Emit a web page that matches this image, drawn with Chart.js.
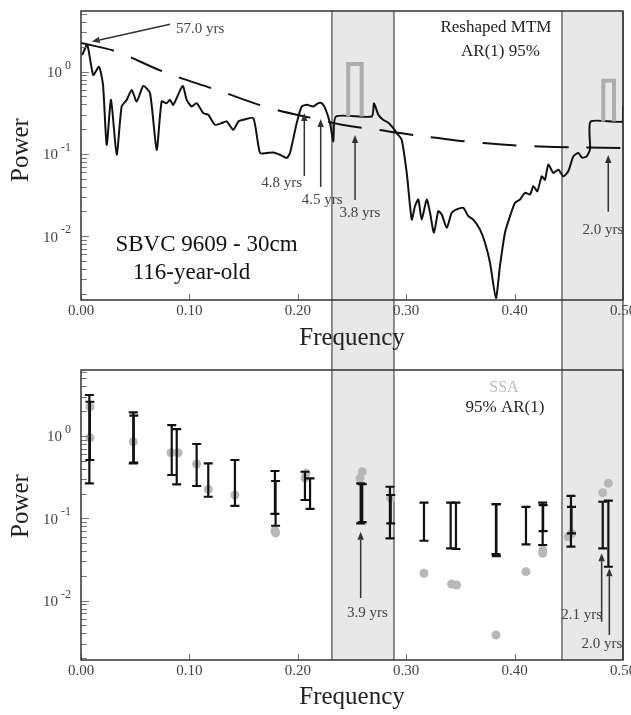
<!DOCTYPE html>
<html>
<head>
<meta charset="utf-8">
<script src="https://cdn.jsdelivr.net/npm/chart.js@4.4.1/dist/chart.umd.min.js"></script>
<style>
  body { margin: 0; background: #fff; width: 631px; height: 715px; overflow: hidden; position: relative; }
  .panel { position: absolute; left: 0; width: 631px; }
  #top { top: 0; height: 360px; }
  #bot { top: 360px; height: 355px; }
</style>
</head>
<body>
<div class="panel" id="top"><canvas id="mtm"></canvas></div>
<div class="panel" id="bot"><canvas id="ssa"></canvas></div>
<script>
// ── Data ──────────────────────────────────────────────────

const xTickValues = [0, 0.1, 0.2, 0.3, 0.4, 0.5];
const xTickLabels = ['0.00', '0.10', '0.20', '0.30', '0.40', '0.50'];
const yTickValues = [1, 0.1, 0.01];
const yTickExp    = ['0', '-1', '-2'];

// shaded frequency bands
const bandStart = [0.2315, 0.4437];
const bandEnd   = [0.2887, 0.5];

// reshaped MTM spectrum
const mtmFreq = [
  0.001, 0.0058, 0.0113, 0.0166, 0.0203, 0.0237, 0.0277, 0.0329, 0.0375, 0.0422,
  0.0468, 0.0514, 0.0575, 0.0637, 0.0698, 0.0744, 0.079, 0.0821, 0.0851, 0.0938,
  0.0975, 0.1021, 0.1067, 0.1128, 0.1174, 0.1236, 0.1298, 0.1344, 0.1405, 0.1451,
  0.1497, 0.159, 0.1651, 0.1713, 0.1774, 0.1836, 0.1898, 0.1928, 0.199, 0.2036,
  0.2082, 0.2143, 0.2189, 0.222, 0.2251, 0.2297, 0.2328, 0.2352, 0.2682, 0.2703,
  0.2743, 0.2786, 0.2832, 0.2881, 0.2912, 0.2958, 0.3005, 0.3051, 0.3081, 0.3112,
  0.3143, 0.3189, 0.322, 0.3256, 0.3296, 0.3328, 0.3374, 0.342, 0.3466, 0.3527,
  0.3573, 0.3619, 0.3681, 0.3727, 0.3773, 0.3828, 0.3865, 0.3911, 0.3958, 0.4004,
  0.405, 0.4096, 0.4142, 0.4173, 0.421, 0.425, 0.428, 0.4311, 0.4357, 0.4403,
  0.4449, 0.4495, 0.4542, 0.4588, 0.4622, 0.4665, 0.4696, 0.4702, 0.5, 0.5,
];
const mtmPower = [
  1.59, 2.11, 0.912, 1.15, 0.69, 0.129, 0.454, 0.0977, 0.377, 0.454,
  0.60, 0.433, 0.671, 0.547, 0.112, 0.433, 0.414, 0.454, 0.395, 0.671,
  0.454, 0.377, 0.414, 0.313, 0.299, 0.226, 0.237, 0.248, 0.196, 0.248,
  0.26, 0.272, 0.1025, 0.1025, 0.104, 0.0977, 0.0891, 0.1025, 0.237, 0.377,
  0.395, 0.377, 0.414, 0.414, 0.363, 0.237, 0.142, 0.285, 0.285, 0.414,
  0.299, 0.26, 0.241, 0.206, 0.179, 0.149, 0.0587, 0.0159, 0.0231, 0.0279,
  0.0159, 0.0279, 0.0192, 0.011, 0.0201, 0.0183, 0.0126, 0.0192, 0.0211, 0.0221,
  0.0175, 0.0159, 0.012, 0.0083, 0.00476, 0.00176, 0.00433, 0.011, 0.0175, 0.0254,
  0.0279, 0.0336, 0.032, 0.0404, 0.0351, 0.0533, 0.0486, 0.074, 0.0587, 0.0643,
  0.0533, 0.0614, 0.0933, 0.1025, 0.09, 0.0933, 0.1146, 0.248, 0.248, 0.377,
];

// AR(1) 95% level (dashed)
const arFreq  = [0, 0.0329, 0.0759, 0.1252, 0.1744, 0.2174, 0.2405, 0.2743, 0.2943, 0.325, 0.3711, 0.4234, 0.5];
const arPower = [2.23, 1.75, 1.0, 0.60, 0.36, 0.265, 0.226, 0.196, 0.179, 0.158, 0.1355, 0.123, 0.118];

// significance pulses (grey)
const pulse1Freq  = [0.2465, 0.2465, 0.2589, 0.2589];
const pulse1Power = [0.285, 1.24, 1.24, 0.285];
const pulse2Freq  = [0.4818, 0.4818, 0.4917, 0.4917];
const pulse2Power = [0.248, 0.778, 0.778, 0.248];

// SSA eigenvalue powers (grey dots)
const ssaFreq  = [0.0083, 0.0083, 0.0482, 0.083, 0.0895, 0.1067, 0.1174, 0.142, 0.1789, 0.1795,
                  0.2076, 0.2066, 0.2595, 0.2574, 0.2857, 0.3164, 0.3419, 0.3465, 0.3828, 0.4105,
                  0.4259, 0.4259, 0.4495, 0.4527, 0.4813, 0.4865];
const ssaPower = [2.27, 0.953, 0.853, 0.627, 0.627, 0.457, 0.225, 0.192, 0.0707, 0.0668,
                  0.352, 0.309, 0.368, 0.306, 0.175, 0.0215, 0.0159, 0.0155, 0.00382, 0.0225,
                  0.0412, 0.0376, 0.0598, 0.0657, 0.205, 0.266];

// 95% AR(1) error bars
const ebFreq = [0.0077, 0.0082, 0.0482, 0.0487, 0.0837, 0.0883, 0.1067, 0.1174, 0.142, 0.1789,
                0.1795, 0.2066, 0.2113, 0.258, 0.2594, 0.285, 0.2857, 0.3164, 0.341, 0.3459,
                0.3828, 0.3832, 0.4105, 0.4259, 0.4263, 0.452, 0.4525, 0.4813, 0.4865];
const ebLow  = [0.266, 0.511, 0.466, 0.474, 0.336, 0.259, 0.247, 0.183, 0.142, 0.113,
                0.0813, 0.167, 0.130, 0.0869, 0.09, 0.0571, 0.0869, 0.0534, 0.0432, 0.0424,
                0.0368, 0.0348, 0.0483, 0.0474, 0.0701, 0.0452, 0.0657, 0.0432, 0.0258];
const ebHigh = [3.15, 2.61, 1.94, 1.77, 1.36, 1.21, 0.80, 0.466, 0.511, 0.376,
                0.284, 0.368, 0.306, 0.266, 0.26, 0.242, 0.192, 0.155, 0.155, 0.155,
                0.149, 0.149, 0.138, 0.155, 0.145, 0.187, 0.138, 0.159, 0.164];

// annotations, in data coordinates
const mtmArrows = [
  [0.0821, 3.77, 0.0099, 2.32],
  [0.206, 0.0538, 0.206, 0.315],
  [0.2211, 0.0396, 0.2211, 0.266],
  [0.2528, 0.0275, 0.2528, 0.17],
  [0.4864, 0.0198, 0.4864, 0.097],
];
const mtmNotes = [
  { text: '57.0 yrs', x: 0.0876, y: 3.31, align: 'left' },
  { text: '4.8 yrs',  x: 0.2039, y: 0.0442, align: 'right' },
  { text: '4.5 yrs',  x: 0.2225, y: 0.0273, align: 'center' },
  { text: '3.8 yrs',  x: 0.2574, y: 0.0191, align: 'center' },
  { text: '2.0 yrs',  x: 0.4815, y: 0.01186, align: 'center' },
  { text: 'SBVC 9609 - 30cm', x: 0.1158, y: 0.0078, align: 'center', size: 23, color: '#111' },
  { text: '116-year-old',     x: 0.1019, y: 0.00356, align: 'center', size: 23, color: '#111' },
  { text: 'Reshaped MTM', x: 0.3828, y: 3.40, align: 'center', size: 17, color: '#222' },
  { text: 'AR(1) 95%',    x: 0.387,  y: 1.74, align: 'center', size: 17, color: '#222' },
];
const ssaArrows = [
  [0.258, 0.01075, 0.258, 0.0687],
  [0.4803, 0.00554, 0.4803, 0.0376],
  [0.4874, 0.00382, 0.4874, 0.0247],
];
const ssaNotes = [
  { text: '3.9 yrs', x: 0.2643, y: 0.00707, align: 'center' },
  { text: '2.1 yrs', x: 0.4806, y: 0.00668, align: 'right' },
  { text: '2.0 yrs', x: 0.4806, y: 0.00297, align: 'center' },
  { text: 'SSA',       x: 0.3902, y: 3.83, align: 'center', size: 16, color: '#bbb' },
  { text: '95% AR(1)', x: 0.3911, y: 2.19, align: 'center', size: 17, color: '#222' },
];

// ── Helpers ───────────────────────────────────────────────

const SERIF = "'Liberation Serif', 'Times New Roman', serif";
const pts = (xs, ys) => xs.map((x, i) => ({ x, y: ys[i] }));

function drawArrow(ctx, x0, y0, x1, y1) {
  const a = Math.atan2(y1 - y0, x1 - x0);
  const h = 8, w = 3.2;
  const bx = x1 - h * Math.cos(a), by = y1 - h * Math.sin(a);
  ctx.beginPath();
  ctx.moveTo(x0, y0);
  ctx.lineTo(bx, by);
  ctx.stroke();
  ctx.beginPath();
  ctx.moveTo(x1, y1);
  ctx.lineTo(bx + w * Math.sin(a), by - w * Math.cos(a));
  ctx.lineTo(bx - w * Math.sin(a), by + w * Math.cos(a));
  ctx.closePath();
  ctx.fill();
}

// bands, frame, inward ticks, tick labels, titles and notes
const frame = {
  id: 'frame',
  beforeDraw(chart, args, o) {
    const { ctx, chartArea: a, scales: { x } } = chart;
    const y0 = o.bandsDown ? a.top : 0;
    const y1 = o.bandsDown ? chart.height : a.bottom;
    ctx.save();
    ctx.fillStyle = '#e8e8e8';
    ctx.strokeStyle = '#555';
    ctx.lineWidth = 1.3;
    bandStart.forEach((s, i) => {
      const l = x.getPixelForValue(s), r = x.getPixelForValue(bandEnd[i]);
      ctx.fillRect(l, y0, r - l, y1 - y0);
      ctx.beginPath();
      ctx.moveTo(l, y0); ctx.lineTo(l, y1);
      ctx.moveTo(r, y0); ctx.lineTo(r, y1);
      ctx.stroke();
    });
    ctx.restore();
  },
  afterDraw(chart, args, o) {
    const { ctx, chartArea: a, scales: { x, y } } = chart;
    ctx.save();

    // inward ticks
    ctx.strokeStyle = '#777';
    ctx.lineWidth = 1;
    ctx.beginPath();
    for (let e = -3; e <= 0; e++) {
      for (let m = 1; m <= 9; m++) {
        const v = m * Math.pow(10, e);
        if (v < y.min || v > y.max) continue;
        const py = Math.round(y.getPixelForValue(v)) + 0.5;
        ctx.moveTo(a.left, py);
        ctx.lineTo(a.left + (m === 1 ? 8 : 6), py);
      }
    }
    xTickValues.forEach(v => {
      const px = Math.round(x.getPixelForValue(v)) + 0.5;
      ctx.moveTo(px, a.bottom);
      ctx.lineTo(px, a.bottom - 6);
    });
    ctx.stroke();

    // frame
    ctx.strokeStyle = '#333';
    ctx.lineWidth = 1.5;
    ctx.strokeRect(a.left, a.top, a.right - a.left, a.bottom - a.top);

    // x tick labels
    ctx.fillStyle = '#444';
    ctx.font = `15px ${SERIF}`;
    ctx.textAlign = 'center';
    ctx.textBaseline = 'middle';
    xTickValues.forEach((v, i) => ctx.fillText(xTickLabels[i], x.getPixelForValue(v), a.bottom + 11));

    // y tick labels: 10 with superscript exponent
    yTickValues.forEach((v, i) => {
      const py = y.getPixelForValue(v);
      ctx.textAlign = 'right';
      ctx.font = `12px ${SERIF}`;
      const ew = ctx.measureText(yTickExp[i]).width;
      ctx.fillText(yTickExp[i], a.left - 10, py - 6);
      ctx.font = `15px ${SERIF}`;
      ctx.fillText('10', a.left - 13 - ew, py + 1.5);
    });

    // axis titles
    ctx.fillStyle = '#222';
    ctx.font = `25px ${SERIF}`;
    ctx.textAlign = 'center';
    ctx.fillText('Frequency', (a.left + a.right) / 2, o.xTitleY);
    ctx.save();
    ctx.translate(21, o.yTitleY);
    ctx.rotate(-Math.PI / 2);
    ctx.fillText('Power', 0, 0);
    ctx.restore();

    // arrows
    ctx.strokeStyle = '#333';
    ctx.fillStyle = '#333';
    ctx.lineWidth = 1.5;
    o.arrows.forEach(([fx0, p0, fx1, p1]) => drawArrow(ctx,
      x.getPixelForValue(fx0), y.getPixelForValue(p0),
      x.getPixelForValue(fx1), y.getPixelForValue(p1)));

    // notes
    o.notes.forEach(n => {
      ctx.fillStyle = n.color || '#444';
      ctx.font = `${n.size || 15}px ${SERIF}`;
      ctx.textAlign = n.align;
      ctx.fillText(n.text, x.getPixelForValue(n.x), y.getPixelForValue(n.y));
    });
    ctx.restore();
  },
};

const errorBars = {
  id: 'errorBars',
  afterDatasetsDraw(chart) {
    const { ctx, scales: { x, y } } = chart;
    ctx.save();
    ctx.strokeStyle = '#111';
    ctx.lineWidth = 2.2;
    ebFreq.forEach((f, i) => {
      const px = x.getPixelForValue(f);
      const lo = y.getPixelForValue(ebLow[i]);
      const hi = y.getPixelForValue(ebHigh[i]);
      ctx.beginPath();
      ctx.moveTo(px, lo); ctx.lineTo(px, hi);
      ctx.moveTo(px - 4.5, lo); ctx.lineTo(px + 4.5, lo);
      ctx.moveTo(px - 4.5, hi); ctx.lineTo(px + 4.5, hi);
      ctx.stroke();
    });
    ctx.restore();
  },
};

function scalesFor(yMin, yMax, xHeight) {
  return {
    x: {
      type: 'linear', min: 0, max: 0.5,
      ticks: { display: false }, grid: { display: false, drawTicks: false }, border: { display: false },
      afterFit: s => { s.height = xHeight; },
    },
    y: {
      type: 'logarithmic', min: yMin, max: yMax,
      ticks: { display: false }, grid: { display: false, drawTicks: false }, border: { display: false },
      afterFit: s => { s.width = 81; },
    },
  };
}

const baseOptions = {
  responsive: true, maintainAspectRatio: false, animation: false,
  events: [],
};

// ── Top: reshaped MTM ─────────────────────────────────────

new Chart(document.getElementById('mtm'), {
  type: 'line',
  data: {
    datasets: [
      { data: pts(pulse1Freq, pulse1Power), borderColor: '#adadad', borderWidth: 4, pointRadius: 0, tension: 0 },
      { data: pts(pulse2Freq, pulse2Power), borderColor: '#adadad', borderWidth: 4, pointRadius: 0, tension: 0 },
      { data: pts(arFreq, arPower), borderColor: '#111', borderWidth: 2, borderDash: [34, 18], pointRadius: 0, tension: 0.4 },
      { data: pts(mtmFreq, mtmPower), borderColor: '#111', borderWidth: 2, pointRadius: 0, tension: 0.2 },
    ],
  },
  options: {
    ...baseOptions,
    layout: { padding: { top: 11, right: 8, left: 0, bottom: 0 } },
    scales: scalesFor(0.00167, 5.47, 60),
    plugins: {
      legend: { display: false }, tooltip: { enabled: false },
      frame: { bandsDown: true, xTitleY: 338, yTitleY: 150, arrows: mtmArrows, notes: mtmNotes },
    },
  },
  plugins: [frame],
});

// ── Bottom: SSA ───────────────────────────────────────────

new Chart(document.getElementById('ssa'), {
  type: 'scatter',
  data: {
    datasets: [
      { data: pts(ssaFreq, ssaPower), backgroundColor: '#b8b8b8', borderWidth: 0, pointRadius: 4.5 },
    ],
  },
  options: {
    ...baseOptions,
    layout: { padding: { top: 10, right: 8, left: 0, bottom: 0 } },
    scales: scalesFor(0.0019, 6.34, 55),
    plugins: {
      legend: { display: false }, tooltip: { enabled: false },
      frame: { bandsDown: false, xTitleY: 337, yTitleY: 146, arrows: ssaArrows, notes: ssaNotes },
    },
  },
  plugins: [frame, errorBars],
});
</script>
</body>
</html>
